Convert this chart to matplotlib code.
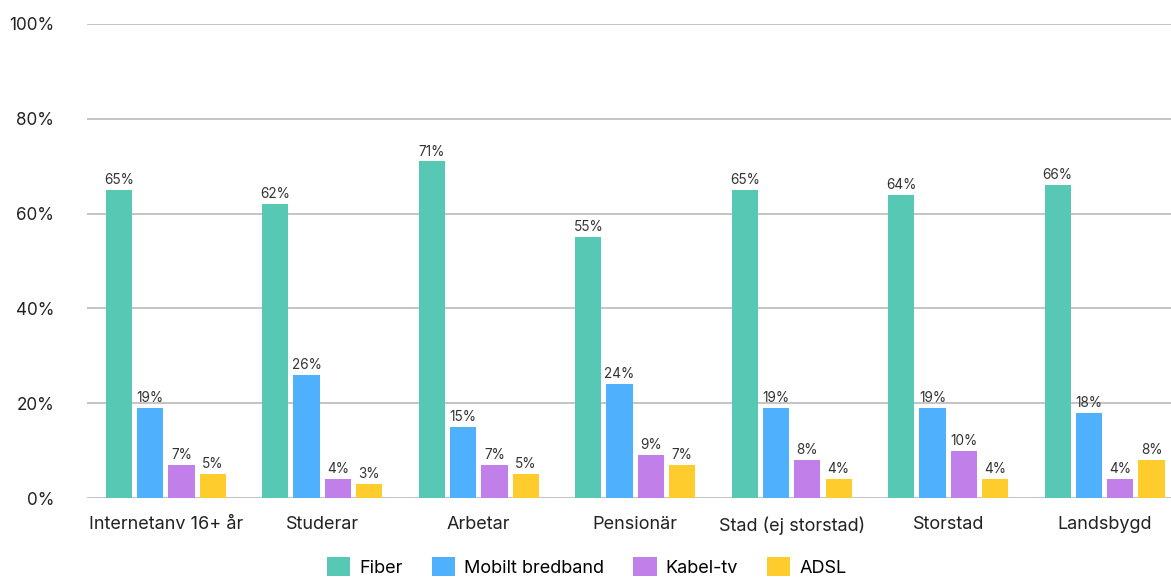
import numpy as np
import matplotlib.pyplot as plt

plt.rcParams['font.family'] = ['Inter', 'DejaVu Sans']

# Data
categories = ["Internetanv 16+ år", "Studerar", "Arbetar", "Pensionär",
              "Stad (ej storstad)", "Storstad", "Landsbygd"]
series_names = ["Fiber", "Mobilt bredband", "Kabel-tv", "ADSL"]
fiber = [65, 62, 71, 55, 65, 64, 66]
mobilt = [19, 26, 15, 24, 19, 19, 18]
kabel = [7, 4, 7, 9, 8, 10, 4]
adsl = [5, 3, 5, 7, 4, 4, 8]
colors = ["#56C8B4", "#4FB0FD", "#C17FEA", "#FFCC2E"]

fig = plt.figure(figsize=(11.71, 5.78), dpi=100)
ax = fig.add_axes([0.0747, 0.1384, 0.9355, 0.8201])

x = np.arange(len(categories))
width = 0.168
offsets = [-0.3, -0.1, 0.1, 0.3]
for vals, name, col, off in zip([fiber, mobilt, kabel, adsl], series_names, colors, offsets):
    bars = ax.bar(x + off, vals, width, color=col, label=name, zorder=3)
    for b, v in zip(bars, vals):
        ax.text(b.get_x() + b.get_width() / 2, v + 0.6, f"{v}%", ha='center', va='bottom',
                fontsize=9.8, color='#333333', zorder=4)

ax.set_xlim(-0.5, len(categories) - 0.5)
ax.set_ylim(0, 100)
ax.set_yticks(range(0, 101, 20))
ax.set_yticklabels([f"{t}%" for t in range(0, 101, 20)])
ax.set_xticks(x)
ax.set_xticklabels(categories)
ax.tick_params(axis='y', length=0, pad=24, labelsize=12.3, labelcolor='#222222')
ax.tick_params(axis='x', length=0, pad=13, labelsize=13, labelcolor='#222222')
ax.grid(axis='y', color='#BFBFBF', linewidth=1.3, zorder=0)
for s in ax.spines.values():
    s.set_visible(False)

leg = fig.legend(loc='center', bbox_to_anchor=(0.501, 0.019), ncol=4, frameon=False,
                 fontsize=13, handlelength=1.3, handleheight=1.25, columnspacing=1.6,
                 handletextpad=0.5)
for h in leg.legend_handles:
    h.set_edgecolor('none')

fig.savefig("out.png", dpi=100)
